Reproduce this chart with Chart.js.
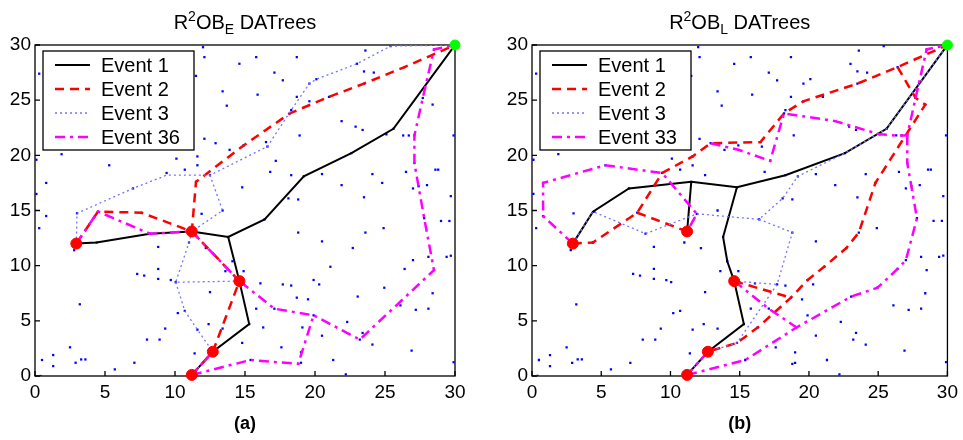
<!DOCTYPE html>
<html>
<head>
<meta charset="utf-8">
<script src="https://cdn.jsdelivr.net/npm/chart.js@4.4.1/dist/chart.umd.min.js"></script>
<style>
  html, body { margin: 0; padding: 0; background: #fff; }
  #wrap { position: relative; width: 963px; height: 440px; }
  canvas { position: absolute; top: 0; }
</style>
</head>
<body>
<div id="wrap">
  <canvas id="panelA" width="481" height="440" style="left:0"></canvas>
  <canvas id="panelB" width="482" height="440" style="left:481px"></canvas>
</div>
<script>
// Field coordinates, both axes 0..30
const xTicks = [0, 5, 10, 15, 20, 25, 30];
const yTicks = [0, 5, 10, 15, 20, 25, 30];

// Sensor nodes (same deployment in both panels)
const nodes = [
  [12.0,29.8],[12.1,28.9],[14.6,28.3],[0.3,27.4],[11.5,27.2],[13.4,25.8],[13.7,24.5],
  [12.1,21.5],[12.9,21.1],[13.9,20.5],[1.9,20.1],[0.1,19.6],[10.1,19.7],[11.6,19.9],
  [5.3,19.1],[10.7,18.7],[11.6,19.1],[9.4,18.4],[12.5,18.2],[11.5,17.6],[0.8,17.5],
  [14.8,17.1],[0.1,16.5],[7.0,17.0],[11.9,14.7],[13.4,15.0],[3.0,14.75],[4.5,14.9],
  [7.6,14.8],[0.8,14.5],
  [25.4,29.9],[23.6,29.5],[15.8,28.9],[18.7,28.9],[28.5,29.6],[23.0,28.3],[26.4,28.0],
  [17.1,27.5],[23.5,27.6],[24.2,27.5],[17.7,26.8],[20.1,26.9],[19.6,26.5],[23.5,26.5],
  [15.9,25.5],[18.7,25.3],[21.0,25.3],[19.6,24.9],[27.7,25.2],[28.4,24.6],[18.3,24.1],
  [18.2,23.8],[21.9,23.1],[22.9,22.6],[23.4,22.3],[25.6,22.4],[25.1,21.9],[26.3,21.8],
  [26.7,21.8],[27.1,21.8],[29.9,21.8],[18.9,21.8],[16.5,21.2],[14.9,20.9],[16.6,20.8],
  [22.6,20.2],[17.2,19.5],[27.1,19.3],[16.8,18.5],[18.3,18.2],[20.5,18.3],[19.2,18.1],
  [24.1,18.3],[26.5,18.5],[28.6,18.7],[28.8,18.7],[21.9,17.3],[24.8,17.5],[27.0,17.0],
  [27.4,17.2],[28.0,17.3],[18.1,16.1],[18.8,16.0],[23.5,16.2],[29.7,16.3],[16.4,14.2],
  [0.3,13.4],[8.2,12.9],[13.8,12.6],[4.4,12.1],[2.8,11.4],[11.0,12.1],[12.2,11.6],
  [8.8,11.7],[14.1,10.4],[13.6,9.5],[14.9,9.5],[7.3,9.25],[7.8,9.1],[8.8,9.7],[8.8,8.8],
  [9.7,8.7],[10.05,8.5],[12.5,7.6],[3.2,6.5],[10.2,5.7],[10.7,5.9],[12.4,4.7],[15.3,4.7],
  [9.3,4.3],[8.0,3.3],[8.9,3.3],[11.6,4.2],[13.4,4.3],[2.5,2.6],[11.4,2.05],[14.8,3.0],
  [0.5,1.45],[1.3,1.9],[1.3,0.9],[2.9,1.2],[3.3,1.5],[3.6,1.5],[7.1,1.2],[5.7,0.6],
  [0.4,0.0],[10.9,0.1],
  [18.8,13.0],[20.5,12.2],[22.7,11.6],[23.6,13.0],[24.9,13.4],[27.8,14.3],[29.0,14.05],
  [29.6,14.05],[21.1,9.9],[27.0,10.5],[26.4,9.7],[28.1,10.8],[28.5,9.6],[29.4,10.8],
  [29.7,10.9],[16.1,8.4],[17.7,8.3],[18.3,8.2],[19.9,8.7],[20.3,8.3],[24.95,8.0],
  [18.7,7.1],[19.5,6.95],[23.05,7.2],[28.4,7.5],[15.8,6.1],[17.1,6.1],[26.1,6.4],
  [27.2,6.0],[28.1,6.1],[19.9,5.5],[16.3,4.4],[19.1,4.4],[22.3,4.9],[23.4,3.9],[23.2,3.3],
  [20.5,3.65],[24.1,2.85],[17.6,2.6],[19.0,2.15],[26.9,2.3],[21.3,1.45],[19.0,1.2],
  [18.8,1.1],[15.4,1.45],[22.2,0.15],[29.9,1.25]
];

// Event sources and the sink
const sources = [[2.95,12.0],[11.2,13.1],[14.6,8.6],[12.7,2.2],[11.2,0.1]];
const sink = [[30,30]];

// (a) R2OB_E trees, each event is a list of branches
const event1A = [
  [[2.95,12.0],[4.4,12.1],[8.2,12.9],[11.2,13.1],[13.8,12.6],[16.4,14.2],[19.2,18.1],[22.6,20.2],[25.6,22.4],[30,30]],
  [[11.2,0.1],[12.7,2.2],[15.3,4.7],[14.6,8.6],[13.8,12.6]]
];
const event2A = [
  [[2.95,12.0],[4.5,14.9],[7.6,14.8],[11.2,13.1],[11.5,17.6],[14.9,20.9],[18.2,23.8],[21.0,25.3],[23.5,26.5],[26.4,28.0],[30,30]],
  [[14.6,8.6],[11.2,13.1]],
  [[12.7,2.2],[14.6,8.6]],
  [[11.2,0.1],[12.7,2.2]]
];
const event3A = [
  [[2.95,12.0],[3.0,14.75],[7.0,17.0],[9.4,18.2],[12.5,18.2],[16.6,20.8],[18.3,24.1],[19.6,26.5],[20.1,26.9],[23.0,28.3],[25.4,29.9],[30,30]],
  [[12.5,18.2],[13.4,15.0],[11.2,13.1],[11.0,12.1],[10.05,8.5],[14.6,8.6]],
  [[10.05,8.5],[10.7,5.9],[11.6,4.2],[12.7,2.2],[11.2,0.1]]
];
const event36A = [
  [[2.95,12.0],[4.5,14.9],[8.2,12.9],[11.2,13.1],[14.6,8.6],[17.1,6.1],[19.9,5.5],[23.2,3.3],[28.5,9.6],[27.8,14.3],[27.1,19.3],[27.1,21.8],[27.7,25.2],[28.5,29.6],[30,30]],
  [[11.2,0.1],[15.4,1.45],[18.8,1.1],[19.9,5.5]],
  [[12.7,2.2],[11.2,0.1]]
];

// (b) R2OB_L trees
const event1B = [
  [[2.95,12.0],[4.4,14.9],[7.0,17.0],[11.5,17.6],[14.8,17.1],[18.3,18.2],[22.6,20.2],[25.6,22.4],[30,30]],
  [[11.2,13.1],[11.5,17.6]],
  [[11.2,0.1],[12.7,2.2],[15.3,4.7],[14.6,8.6],[14.1,10.4],[13.8,12.6],[14.8,17.1]]
];
const event2B = [
  [[2.95,12.0],[4.4,12.1],[7.6,14.8],[9.4,18.4],[11.6,19.9],[12.9,21.1],[16.5,21.2],[18.2,23.8],[19.6,24.9],[23.5,26.5],[26.4,28.0],[30,30]],
  [[7.6,14.8],[11.2,13.1]],
  [[26.4,28.0],[27.7,25.2],[28.4,24.6],[24.8,17.5],[23.6,13.0],[22.7,11.6],[21.1,9.9],[19.9,8.7],[18.7,7.1],[16.3,4.4],[14.8,3.0],[12.7,2.2]],
  [[14.6,8.6],[18.7,7.1]]
];
const event3B = [
  [[2.95,12.0],[4.4,14.9],[8.2,12.9],[11.9,14.7],[16.4,14.2],[18.1,16.1],[19.2,18.1],[22.6,20.2],[25.6,22.4],[30,30]],
  [[11.2,13.1],[11.9,14.7]],
  [[16.4,14.2],[18.8,13.0],[17.7,8.3],[14.8,3.0],[12.7,2.2],[11.2,0.1]],
  [[14.6,8.6],[17.7,8.3]]
];
const event33B = [
  [[2.95,12.0],[0.8,14.5],[0.8,17.5],[5.3,19.1],[9.4,18.4],[11.9,14.7],[11.2,13.1]],
  [[12.9,21.1],[14.9,20.5],[17.2,19.5],[18.2,23.8],[21.9,23.1],[25.1,21.9],[26.3,21.8],[27.1,21.8],[27.7,25.2],[28.5,29.6],[30,30]],
  [[11.2,0.1],[15.4,1.45],[19.1,4.4],[23.05,7.2],[24.95,8.0],[26.4,9.7],[27.0,10.5],[27.8,14.3],[27.1,19.3],[27.1,21.8]],
  [[14.6,8.6],[17.1,6.1],[19.1,4.4]],
  [[12.7,2.2],[11.2,0.1]]
];

const FONT = "'Liberation Sans', Helvetica, Arial, sans-serif";

const lineStyles = [
  { color: '#000000', width: 2,   dash: [],            order: 4 },
  { color: '#ff0000', width: 2.5, dash: [9, 6],        order: 3 },
  { color: '#7373ff', width: 1.3, dash: [2, 3],        order: 2 },
  { color: '#ff00ff', width: 2.5, dash: [10, 5, 3, 5], order: 1 }
];

const toPts = arr => arr.map(([x, y]) => ({ x, y }));

function branchSets(branches, st) {
  return branches.map(b => ({
    data: toPts(b),
    showLine: true,
    pointRadius: 0,
    borderColor: st.color,
    backgroundColor: st.color,
    borderWidth: st.width,
    borderDash: st.dash,
    order: st.order
  }));
}

// frame, inward ticks, legend, title and caption for one panel
function decorPlugin(labels, title, caption) {
  return {
    id: 'decor',
    beforeDatasetsDraw(chart) {
      const { ctx, chartArea: a, scales } = chart;
      ctx.save();
      ctx.strokeStyle = '#000';
      ctx.lineWidth = 1.3;
      ctx.strokeRect(a.left, a.top, a.right - a.left, a.bottom - a.top);
      ctx.beginPath();
      xTicks.forEach(v => {
        const px = scales.x.getPixelForValue(v);
        ctx.moveTo(px, a.bottom); ctx.lineTo(px, a.bottom - 5);
      });
      yTicks.forEach(v => {
        const py = scales.y.getPixelForValue(v);
        ctx.moveTo(a.left, py); ctx.lineTo(a.left + 5, py);
      });
      ctx.stroke();
      ctx.restore();
    },
    afterDraw(chart) {
      const { ctx, chartArea: a } = chart;
      ctx.save();

      // legend box
      const bx = a.left + 8, by = 51, bw = 151, bh = 99;
      ctx.fillStyle = '#fff';
      ctx.fillRect(bx, by, bw, bh);
      ctx.strokeStyle = '#000';
      ctx.lineWidth = 1.3;
      ctx.strokeRect(bx, by, bw, bh);
      ctx.font = '20px ' + FONT;
      ctx.textBaseline = 'middle';
      ctx.textAlign = 'left';
      labels.forEach((label, i) => {
        const st = lineStyles[i];
        const ry = by + 14 + i * 24;
        ctx.beginPath();
        ctx.strokeStyle = st.color;
        ctx.lineWidth = st.width;
        ctx.setLineDash(st.dash);
        ctx.moveTo(bx + 12, ry); ctx.lineTo(bx + 47, ry);
        ctx.stroke();
        ctx.setLineDash([]);
        ctx.fillStyle = '#000';
        ctx.fillText(label, bx + 58, ry + 1);
      });

      // title with super/subscripts
      const big = '20px ' + FONT, small = '14px ' + FONT;
      let total = 0;
      title.forEach(p => { ctx.font = p.dy ? small : big; total += ctx.measureText(p.t).width; });
      let tx = (a.left + a.right) / 2 - total / 2;
      ctx.textBaseline = 'alphabetic';
      ctx.fillStyle = '#000';
      title.forEach(p => {
        ctx.font = p.dy ? small : big;
        ctx.fillText(p.t, tx, 29 + (p.dy || 0));
        tx += ctx.measureText(p.t).width;
      });

      // caption
      ctx.font = 'bold 18px ' + FONT;
      ctx.textAlign = 'center';
      ctx.textBaseline = 'middle';
      ctx.fillText(caption, (a.left + a.right) / 2, 424);
      ctx.restore();
    }
  };
}

function makePanel(id, events, labels, title, caption, axisWidth, padRight) {
  const datasets = [
    {
      data: toPts(nodes),
      pointRadius: 1.6,
      pointStyle: 'rect',
      pointBackgroundColor: '#0000ff',
      pointBorderColor: '#0000ff',
      pointBorderWidth: 0,
      order: 10
    }
  ];
  events.forEach((ev, i) => datasets.push(...branchSets(ev, lineStyles[i])));
  datasets.push({
    data: toPts(sources),
    pointRadius: 5.5,
    pointBackgroundColor: '#ff0000',
    pointBorderColor: '#ff0000',
    clip: false,
    order: 0
  });
  datasets.push({
    data: toPts(sink),
    pointRadius: 5,
    pointBackgroundColor: '#00ff00',
    pointBorderColor: '#00ff00',
    clip: false,
    order: 0
  });

  const tickFont = { family: FONT, size: 19 };
  return new Chart(document.getElementById(id), {
    type: 'scatter',
    data: { datasets },
    options: {
      responsive: false,
      animation: false,
      devicePixelRatio: 1,
      events: [],
      layout: { padding: { left: 0, top: 45, right: padRight, bottom: 0 } },
      plugins: {
        legend: { display: false },
        tooltip: { enabled: false }
      },
      scales: {
        x: {
          type: 'linear', min: 0, max: 30,
          afterFit: s => { s.height = 64; },
          afterBuildTicks: s => { s.ticks = xTicks.map(v => ({ value: v })); },
          grid: { display: false, drawTicks: false },
          border: { display: false },
          ticks: { color: '#000', font: tickFont, padding: 5, maxRotation: 0 }
        },
        y: {
          type: 'linear', min: 0, max: 30,
          afterFit: s => { s.width = axisWidth; },
          afterBuildTicks: s => { s.ticks = yTicks.map(v => ({ value: v })); },
          grid: { display: false, drawTicks: false },
          border: { display: false },
          ticks: { color: '#000', font: tickFont, padding: 4 }
        }
      }
    },
    plugins: [decorPlugin(labels, title, caption)]
  });
}

makePanel('panelA', [event1A, event2A, event3A, event36A],
  ['Event 1', 'Event 2', 'Event 3', 'Event 36'],
  [{ t: 'R' }, { t: '2', dy: -8 }, { t: 'OB' }, { t: 'E', dy: 5 }, { t: ' DATrees' }],
  '(a)', 35, 26);

makePanel('panelB', [event1B, event2B, event3B, event33B],
  ['Event 1', 'Event 2', 'Event 3', 'Event 33'],
  [{ t: 'R' }, { t: '2', dy: -8 }, { t: 'OB' }, { t: 'L', dy: 5 }, { t: ' DATrees' }],
  '(b)', 51, 13);
</script>
</body>
</html>
